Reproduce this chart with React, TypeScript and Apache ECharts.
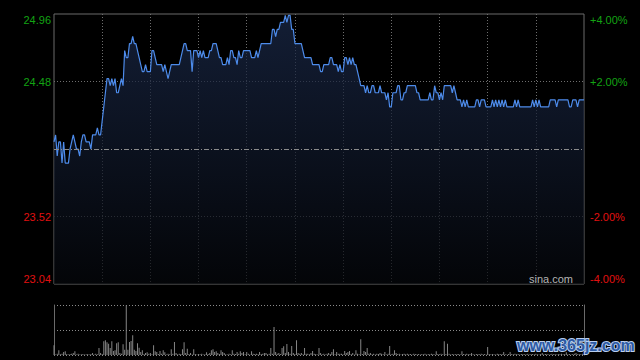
import React, { useEffect, useRef } from "react";
import * as echarts from "echarts";

// HK intraday: 09:30-12:00, 13:00-16:00 (331 minute points)
const BASE_PRICE = 24.0;
const PRICE_MIN = 23.04;
const PRICE_MAX = 24.96;
const PRICE_STEP = 0.48;

const prices: number[] = [
  24.05, 24.10, 23.95, 24.05, 24.05, 23.90, 24.05, 23.90, 23.90, 23.90,
  24.00, 24.05, 24.10, 24.05, 24.00, 24.00, 23.95, 24.05, 24.10, 24.10,
  24.05, 24.05, 24.05, 24.00, 24.10, 24.10, 24.10, 24.15, 24.10, 24.10,
  24.20, 24.30, 24.40, 24.50, 24.50, 24.45, 24.50, 24.45, 24.50, 24.40,
  24.40, 24.45, 24.50, 24.45, 24.70, 24.65, 24.65, 24.75, 24.75, 24.80,
  24.75, 24.75, 24.70, 24.65, 24.60, 24.55, 24.55, 24.60, 24.55, 24.55,
  24.55, 24.70, 24.70, 24.65, 24.60, 24.60, 24.60, 24.60, 24.55, 24.60,
  24.55, 24.50, 24.55, 24.60, 24.60, 24.60, 24.60, 24.60, 24.60, 24.65,
  24.70, 24.75, 24.75, 24.70, 24.70, 24.70, 24.55, 24.70, 24.70, 24.70,
  24.65, 24.70, 24.65, 24.70, 24.65, 24.65, 24.65, 24.70, 24.70, 24.75,
  24.75, 24.75, 24.70, 24.65, 24.65, 24.60, 24.60, 24.60, 24.65, 24.60,
  24.70, 24.70, 24.65, 24.65, 24.60, 24.70, 24.65, 24.65, 24.70, 24.70,
  24.70, 24.70, 24.70, 24.65, 24.65, 24.65, 24.70, 24.65, 24.70, 24.75,
  24.75, 24.75, 24.75, 24.75, 24.75, 24.75, 24.85, 24.85, 24.80, 24.85,
  24.85, 24.90, 24.90, 24.90, 24.95, 24.90, 24.95, 24.95, 24.85, 24.85,
  24.75, 24.75, 24.75, 24.75, 24.75, 24.70, 24.65, 24.65, 24.65, 24.65,
  24.65, 24.60, 24.60, 24.60, 24.60, 24.60, 24.55, 24.55, 24.60, 24.60,
  24.60, 24.60, 24.65, 24.65, 24.60, 24.60, 24.60, 24.55, 24.60, 24.55,
  24.55, 24.65, 24.65, 24.60, 24.65, 24.60, 24.65, 24.60, 24.60, 24.55,
  24.50, 24.45, 24.45, 24.45, 24.40, 24.45, 24.40, 24.40, 24.45, 24.45,
  24.40, 24.40, 24.40, 24.45, 24.40, 24.40, 24.40, 24.35, 24.40, 24.30,
  24.30, 24.40, 24.40, 24.40, 24.45, 24.45, 24.35, 24.35, 24.40, 24.40,
  24.45, 24.45, 24.45, 24.45, 24.45, 24.45, 24.40, 24.40, 24.35, 24.35,
  24.35, 24.35, 24.35, 24.35, 24.40, 24.35, 24.35, 24.45, 24.40, 24.40,
  24.35, 24.40, 24.35, 24.45, 24.45, 24.45, 24.45, 24.45, 24.40, 24.45,
  24.40, 24.35, 24.35, 24.35, 24.30, 24.35, 24.30, 24.35, 24.30, 24.30,
  24.30, 24.30, 24.30, 24.35, 24.35, 24.30, 24.35, 24.35, 24.35, 24.30,
  24.30, 24.30, 24.30, 24.35, 24.30, 24.35, 24.30, 24.35, 24.30, 24.35,
  24.30, 24.35, 24.30, 24.30, 24.30, 24.30, 24.30, 24.35, 24.30, 24.35,
  24.30, 24.30, 24.30, 24.30, 24.30, 24.30, 24.30, 24.30, 24.35, 24.30,
  24.35, 24.30, 24.35, 24.30, 24.30, 24.30, 24.30, 24.30, 24.30, 24.35,
  24.35, 24.35, 24.35, 24.30, 24.35, 24.35, 24.35, 24.35, 24.35, 24.35,
  24.35, 24.30, 24.30, 24.35, 24.35, 24.35, 24.30, 24.35, 24.35, 24.35, 24.35,
];

const volumes: number[] = [
  97, 5, 13, 47, 8, 13, 30, 37, 10, 6,
  9, 12, 20, 37, 6, 13, 5, 8, 10, 4,
  7, 11, 5, 9, 20, 6, 13, 8, 70, 20,
  10, 137, 147, 127, 113, 70, 137, 40, 47, 117,
  127, 20, 12, 107, 53, 497, 53, 130, 140, 197,
  53, 40, 117, 73, 30, 47, 10, 20, 27, 13,
  20, 8, 97, 37, 30, 9, 40, 13, 47, 27,
  6, 13, 8, 57, 13, 130, 20, 7, 13, 9,
  57, 127, 20, 63, 10, 20, 6, 57, 9, 5,
  11, 7, 12, 6, 8, 27, 10, 20, 47, 57,
  30, 37, 20, 9, 47, 30, 20, 8, 6, 13,
  7, 47, 13, 9, 30, 13, 37, 20, 30, 8,
  30, 13, 6, 37, 13, 9, 13, 7, 30, 10,
  13, 20, 20, 8, 13, 70, 13, 280, 30, 13,
  20, 9, 70, 87, 20, 110, 30, 13, 90, 20,
  10, 147, 20, 13, 20, 8, 70, 13, 13, 7,
  20, 40, 13, 9, 6, 70, 20, 8, 13, 5,
  13, 20, 9, 30, 57, 8, 30, 13, 13, 13,
  7, 40, 20, 30, 40, 9, 20, 6, 47, 13,
  8, 157, 10, 40, 30, 70, 13, 20, 7, 13,
  6, 13, 9, 20, 13, 8, 30, 5, 13, 90,
  8, 13, 47, 20, 9, 13, 6, 10, 13, 7,
  13, 8, 10, 6, 12, 9, 7, 11, 5, 9,
  8, 12, 6, 10, 7, 13, 9, 6, 37, 10,
  8, 12, 7, 137, 9, 113, 13, 6, 10, 8,
  7, 11, 9, 6, 37, 10, 8, 12, 7, 9,
  20, 8, 6, 11, 9, 7, 12, 8, 10, 6,
  80, 9, 7, 11, 8, 6, 12, 9, 7, 10,
  30, 8, 6, 11, 30, 9, 7, 12, 8, 10,
  6, 9, 11, 7, 8, 13, 6, 10, 9, 7,
  12, 8, 6, 10, 20, 7, 9, 11, 6, 8,
  13, 7, 9, 6, 10, 8, 12, 7, 9, 27,
  8, 10, 6, 9, 12, 20, 7, 11, 8, 13, 10,
];

const VOLUME_MAX = 500;
const GRID_MINUTES = 30;

function minuteLabel(i: number): string {
  const m = i <= 150 ? 9 * 60 + 30 + i : 13 * 60 + (i - 150);
  const hh = String(Math.floor(m / 60)).padStart(2, "0");
  const mm = String(m % 60).padStart(2, "0");
  return hh + ":" + mm;
}

const FONT = 'Arial, "Liberation Sans", Helvetica, sans-serif';
const GREEN = "#13a313";
const RED = "#e01010";
const GRIDLINE = "#6e6e6e";
const BORDER = "#6a6a6a";

export default function App() {
  const ref = useRef<HTMLDivElement>(null);

  useEffect(() => {
    if (!ref.current) return;
    const chart = echarts.init(ref.current, null, { renderer: "svg" });
    const times = prices.map((_, i) => minuteLabel(i));
    const isBase = (v: number) => Math.abs(v - BASE_PRICE) < 1e-6;
    const pct = (v: number) => ((v - BASE_PRICE) / BASE_PRICE) * 100;

    chart.setOption({
      animation: false,
      backgroundColor: "#000",
      textStyle: { fontFamily: FONT },
      grid: [
        {
          left: 54,
          top: 14,
          width: 530,
          height: 270,
          show: true,
          borderColor: BORDER,
          borderWidth: 1,
          backgroundColor: "transparent",
        },
        { left: 54, top: 305, width: 530, height: 50, show: false },
      ],
      xAxis: [
        {
          type: "category",
          gridIndex: 0,
          data: times,
          boundaryGap: false,
          axisLine: { show: false },
          axisTick: { show: false },
          axisLabel: { show: false },
          splitLine: {
            show: true,
            interval: (idx: number) => idx % GRID_MINUTES === 0 && idx > 0 && idx < prices.length - 1,
            lineStyle: { color: GRIDLINE, type: [1, 2], width: 1 },
          },
        },
        {
          type: "category",
          gridIndex: 1,
          data: times,
          boundaryGap: false,
          axisLine: { show: false },
          axisTick: { show: false },
          axisLabel: { show: false },
          splitLine: { show: false },
        },
      ],
      yAxis: [
        {
          type: "value",
          gridIndex: 0,
          position: "left",
          min: PRICE_MIN,
          max: PRICE_MAX,
          interval: PRICE_STEP,
          axisLine: { show: false },
          axisTick: { show: false },
          axisLabel: {
            margin: 3,
            fontSize: 11,
            fontFamily: FONT,
            verticalAlignMaxLabel: "top",
            verticalAlignMinLabel: "bottom",
            formatter: (v: number) => (isBase(v) ? "" : v.toFixed(2)),
            color: (v: any) => (Number(v) > BASE_PRICE ? GREEN : RED),
          },
          splitLine: {
            show: true,
            lineStyle: {
              color: ["transparent", GRIDLINE, "transparent", GRIDLINE, "transparent"],
              type: [1, 2],
              width: 1,
            },
          },
        },
        {
          type: "value",
          gridIndex: 0,
          position: "right",
          min: PRICE_MIN,
          max: PRICE_MAX,
          interval: PRICE_STEP,
          axisLine: { show: false },
          axisTick: { show: false },
          splitLine: { show: false },
          axisLabel: {
            margin: 6,
            fontSize: 11,
            fontFamily: FONT,
            verticalAlignMaxLabel: "top",
            verticalAlignMinLabel: "bottom",
            formatter: (v: number) => {
              if (isBase(v)) return "";
              const p = pct(v);
              return (p > 0 ? "+" : "") + p.toFixed(2) + "%";
            },
            color: (v: any) => (Number(v) > BASE_PRICE ? GREEN : RED),
          },
        },
        {
          type: "value",
          gridIndex: 1,
          position: "left",
          min: 0,
          max: VOLUME_MAX,
          interval: VOLUME_MAX / 2,
          axisLine: { show: true, lineStyle: { color: BORDER, width: 1 } },
          axisTick: { show: false },
          axisLabel: { show: false },
          splitLine: {
            show: true,
            lineStyle: { color: "#8a8a8a", type: [1, 2], width: 1 },
          },
        },
        {
          type: "value",
          gridIndex: 1,
          position: "right",
          min: 0,
          max: VOLUME_MAX,
          interval: VOLUME_MAX / 2,
          axisLine: { show: true, lineStyle: { color: BORDER, width: 1 } },
          axisTick: { show: false },
          axisLabel: { show: false },
          splitLine: { show: false },
        },
      ],
      series: [
        {
          type: "line",
          xAxisIndex: 0,
          yAxisIndex: 0,
          data: prices,
          symbol: "none",
          lineStyle: { color: "#4d8bea", width: 1.2 },
          areaStyle: {
            origin: "start",
            color: new echarts.graphic.LinearGradient(0, 0, 0, 1, [
              { offset: 0, color: "#1b2a4b" },
              { offset: 1, color: "#05070b" },
            ]),
          },
          markLine: {
            silent: true,
            symbol: "none",
            label: { show: false },
            lineStyle: { color: "#8c8c8c", type: [5, 2, 1, 2], width: 1 },
            data: [{ yAxis: BASE_PRICE }],
          },
          z: 3,
        },
        {
          type: "bar",
          xAxisIndex: 1,
          yAxisIndex: 2,
          data: volumes,
          barWidth: 1,
          itemStyle: { color: "#858585" },
        },
      ],
      graphic: [
        {
          type: "text",
          right: 67,
          top: 273,
          style: { text: "sina.com", fill: "#b4b4b4", font: "11px " + FONT },
          z: 10,
        },
        {
          type: "text",
          left: 516,
          top: 336,
          style: {
            text: "www.365jz.com",
            fill: "#2d5aa4",
            stroke: "#b7cdee",
            lineWidth: 2,
            font: "bold 16px " + FONT,
          },
          z: 20,
        },
      ],
    });

    return () => chart.dispose();
  }, []);

  return (
    <div
      ref={ref}
      style={{ position: "fixed", left: 0, top: 0, width: 640, height: 360 }}
    />
  );
}
